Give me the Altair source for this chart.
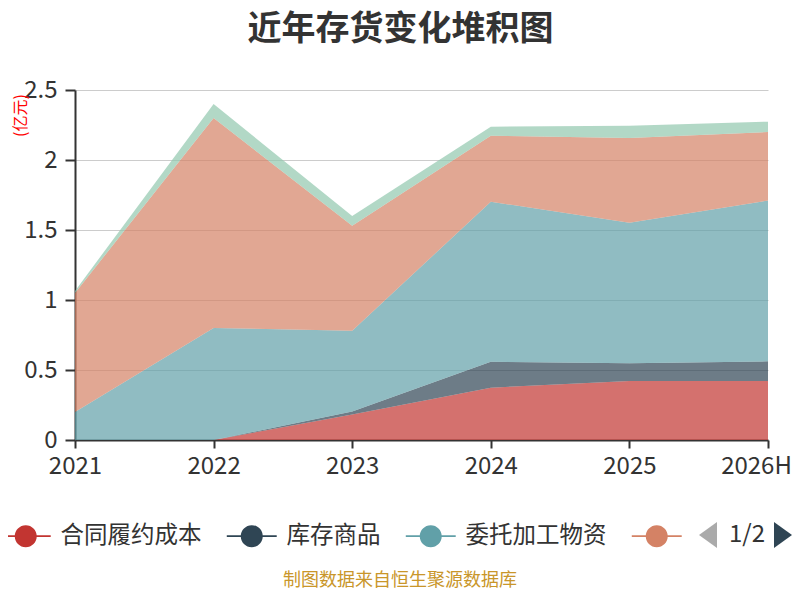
import altair as alt
import pandas as pd

FONT = "Noto Sans CJK SC"

years = ["2021", "2022", "2023", "2024", "2025", "2026H"]
names = ["合同履约成本", "库存商品", "委托加工物资", "原材料", "周转材料"]
colors = ["#c23531", "#2f4554", "#61a0a8", "#d48265", "#91c7ae"]

contract_cost = [0.0, 0.0, 0.183, 0.374, 0.421, 0.421]
goods = [0.0, 0.0, 0.02, 0.185, 0.127, 0.141]
processing = [0.2, 0.8, 0.577, 1.143, 1.004, 1.148]
raw_material = [0.85, 1.5, 0.75, 0.472, 0.605, 0.49]
turnover = [0.015, 0.1, 0.07, 0.064, 0.088, 0.074]

series = [contract_cost, goods, processing, raw_material, turnover]
rows = []
for i, (name, vals) in enumerate(zip(names, series)):
    for y, v in zip(years, vals):
        rows.append({"year": y, "name": name, "value": v, "idx": i})
df = pd.DataFrame(rows)

# legend symbol: short line with a dot in the middle
symbol = ("M-2.27,-0.09 L2.27,-0.09 L2.27,0.09 L-2.27,0.09 Z "
          "M1,0 A1,1 0 1,1 -1,0 A1,1 0 1,1 1,0 Z")

areas = alt.Chart(df).mark_area(fillOpacity=0.7, interpolate="linear").encode(
    x=alt.X("year:N", sort=years, scale=alt.Scale(type="point", padding=0),
            axis=alt.Axis(title=None, labelAngle=0, labelFontSize=24, labelFont=FONT,
                          labelColor="#333", domainColor="#333", domainWidth=2,
                          tickColor="#333", tickWidth=2, tickSize=8, labelPadding=6,
                          labelOffset={"condition": {"test": "datum.label == '2026H'",
                                                     "value": -12},
                                       "value": 0},
                          grid=False)),
    y=alt.Y("value:Q", stack="zero",
            scale=alt.Scale(domain=[0, 2.5], nice=False),
            axis=alt.Axis(values=[0, 0.5, 1, 1.5, 2, 2.5], format="~g",
                          title="(亿元)", titleColor="red", titleFont=FONT,
                          titleFontSize=16, titleFontWeight="normal",
                          titleX=-55, titleY=25, titleAlign="center",
                          titleBaseline="middle", titleAngle=270,
                          labelFontSize=24, labelFont=FONT, labelColor="#333",
                          domainColor="#333", domainWidth=2, tickColor="#333",
                          tickWidth=2, tickSize=10, labelPadding=8,
                          gridColor="#ccc", gridWidth=1)),
    color=alt.Color("name:N", sort=names,
                    scale=alt.Scale(domain=names, range=colors),
                    legend=alt.Legend(orient="none", legendX=-61, legendY=434,
                                      direction="horizontal", title=None,
                                      values=names[:4],
                                      labelExpr="datum.label == '原材料' ? '' : datum.label",
                                      symbolType=symbol, symbolSize=484,
                                      symbolOpacity=1, symbolStrokeWidth=0,
                                      labelFontSize=23.5, labelFont=FONT,
                                      labelColor="#333", labelOffset=23,
                                      columnPadding=24)),
    order=alt.Order("idx:Q"),
)

pager_df = pd.DataFrame({"t": ["1/2"]})
pager_text = alt.Chart(pager_df).mark_text(
    font=FONT, fontSize=24, color="#333", align="center", baseline="middle"
).encode(text="t:N", x=alt.value(672), y=alt.value(445))
left_arrow = alt.Chart(pager_df).mark_point(
    shape="M1,-1.44 L-1,0 L1,1.44 Z", filled=True, color="#aaa", size=324, opacity=1
).encode(x=alt.value(633), y=alt.value(445))
right_arrow = alt.Chart(pager_df).mark_point(
    shape="M-1,-1.44 L1,0 L-1,1.44 Z", filled=True, color="#2f4554", size=324, opacity=1
).encode(x=alt.value(708), y=alt.value(445))

footer_df = pd.DataFrame({"t": ["制图数据来自恒生聚源数据库"]})
footer = alt.Chart(footer_df).mark_text(
    font=FONT, fontSize=18, color="#c9962a", align="center", baseline="middle"
).encode(text="t:N", x=alt.value(325), y=alt.value(491))

chart = alt.layer(areas, pager_text, left_arrow, right_arrow, footer).properties(
    width=693,
    height=350,
    autosize=alt.AutoSizeParams(type="none"),
    padding={"left": 67, "top": 82, "right": 24, "bottom": 152},
    title=alt.TitleParams("近年存货变化堆积图", fontSize=34, fontWeight="bold",
                          color="#333", font=FONT, anchor="middle", dx=-21,
                          dy=3, offset=34),
).configure_view(strokeOpacity=0)

chart.save("out.html", embed_options={"renderer": "svg", "actions": False})
